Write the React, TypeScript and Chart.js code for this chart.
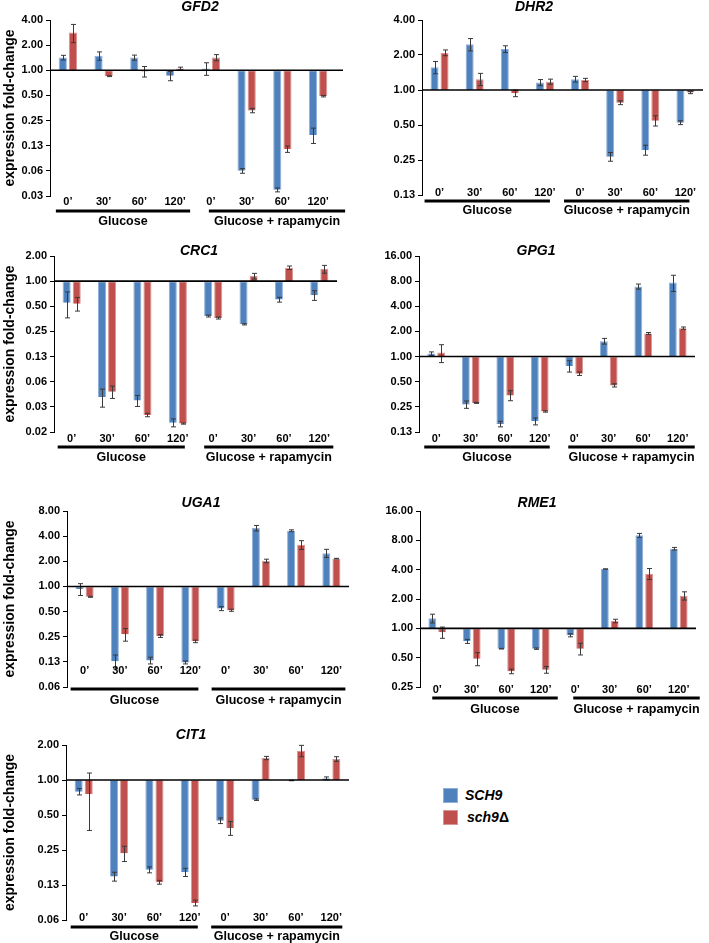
import React, { useEffect, useRef } from "react";
import { Chart, registerables } from "chart.js";
Chart.register(...registerables);

const FONT = "'Liberation Sans', Arial, Helvetica, sans-serif";
const BLUE = "#4F81BD";
const BLUE_EDGE = "#8FB0DA";
const RED = "#C0504D";
const RED_EDGE = "#D99593";

// ---- shared categories ----
const categories = ["0\u2019", "30\u2019", "60\u2019", "120\u2019", "0\u2019", "30\u2019", "60\u2019", "120\u2019"];
const groupNames = ["Glucose", "Glucose + rapamycin"];
const seriesNames = ["SCH9", "sch9\u0394"];

// ---- GFD2 ----
const gfd2Ticks = [0.03125, 0.0625, 0.125, 0.25, 0.5, 1, 2, 4];
const gfd2SCH9 = [1.42, 1.49, 1.42, 0.86, 1.05, 0.0625, 0.037, 0.168];
const gfd2SCH9Sd = [0.09, 0.17, 0.1, 0.11, 0.18, 0.004, 0.002, 0.035];
const gfd2Sch9d = [2.84, 0.85, 0.97, 1.05, 1.42, 0.33, 0.114, 0.49];
const gfd2Sch9dSd = [0.7, 0.01, 0.14, 0.04, 0.12, 0.02, 0.01, 0.01];

// ---- DHR2 ----
const dhr2Ticks = [0.125, 0.25, 0.5, 1, 2, 4];
const dhr2SCH9 = [1.57, 2.47, 2.25, 1.16, 1.24, 0.267, 0.305, 0.524];
const dhr2SCH9Sd = [0.19, 0.3, 0.15, 0.07, 0.07, 0.023, 0.03, 0.02];
const dhr2Sch9d = [2.09, 1.24, 0.936, 1.18, 1.22, 0.778, 0.545, 0.95];
const dhr2Sch9dSd = [0.12, 0.15, 0.06, 0.06, 0.04, 0.03, 0.055, 0.02];

// ---- CRC1 ----
const crc1Ticks = [0.015625, 0.03125, 0.0625, 0.125, 0.25, 0.5, 1, 2];
const crc1SCH9 = [0.553, 0.041, 0.0372, 0.0202, 0.382, 0.304, 0.601, 0.678];
const crc1SCH9Sd = [0.19, 0.01, 0.0056, 0.0022, 0.01, 0.005, 0.04, 0.09];
const crc1Sch9d = [0.538, 0.0474, 0.025, 0.0197, 0.362, 1.149, 1.447, 1.394];
const crc1Sch9dSd = [0.1, 0.008, 0.0012, 0.0003, 0.01, 0.09, 0.07, 0.15];

// ---- GPG1 ----
const gpg1Ticks = [0.125, 0.25, 0.5, 1, 2, 4, 8, 16];
const gpg1SCH9 = [1.087, 0.267, 0.156, 0.168, 0.772, 1.53, 6.9, 7.71];
const gpg1SCH9Sd = [0.05, 0.027, 0.012, 0.016, 0.12, 0.12, 0.48, 1.7];
const gpg1Sch9d = [1.117, 0.279, 0.343, 0.22, 0.624, 0.452, 1.892, 2.19];
const gpg1Sch9dSd = [0.27, 0.004, 0.047, 0.004, 0.03, 0.02, 0.05, 0.07];

// ---- UGA1 ----
const uga1Ticks = [0.0625, 0.125, 0.25, 0.5, 1, 2, 4, 8];
const uga1SCH9 = [0.929, 0.127, 0.13, 0.123, 0.543, 4.99, 4.64, 2.5];
const uga1SCH9Sd = [0.15, 0.024, 0.012, 0.005, 0.03, 0.38, 0.12, 0.28];
const uga1Sch9d = [0.751, 0.267, 0.255, 0.22, 0.519, 2.02, 3.15, 2.15];
const uga1Sch9dSd = [0.01, 0.046, 0.01, 0.008, 0.015, 0.1, 0.38, 0.02];

// ---- RME1 ----
const rme1Ticks = [0.25, 0.5, 1, 2, 4, 8, 16];
const rme1SCH9 = [1.266, 0.735, 0.618, 0.618, 0.848, 4.06, 9.0, 6.57];
const rme1SCH9Sd = [0.13, 0.035, 0.005, 0.01, 0.03, 0.02, 0.42, 0.2];
const rme1Sch9d = [0.91, 0.488, 0.362, 0.376, 0.618, 1.189, 3.64, 2.16];
const rme1Sch9dSd = [0.12, 0.075, 0.02, 0.03, 0.085, 0.05, 0.47, 0.21];

// ---- CIT1 ----
const cit1Ticks = [0.0625, 0.125, 0.25, 0.5, 1, 2];
const cit1SCH9 = [0.794, 0.148, 0.169, 0.161, 0.447, 0.677, 0.99, 1.033];
const cit1SCH9Sd = [0.05, 0.013, 0.01, 0.013, 0.025, 0.01, 0.005, 0.03];
const cit1Sch9d = [0.758, 0.234, 0.132, 0.0876, 0.387, 1.546, 1.787, 1.516];
const cit1Sch9dSd = [0.39, 0.035, 0.005, 0.005, 0.053, 0.05, 0.2, 0.07];

type Panel = {
  gene: string;
  box: { x: number; y: number; w: number; h: number };
  area: { l: number; r: number; t: number; b: number };
  ticks: number[];
  a: number[]; aSd: number[]; b: number[]; bSd: number[];
  yTitle: boolean;
  title: { x: number; y: number };
  labelY: number; lineY: number; groupY: number;
  lineOff: number[]; // offsets for underline ends (cat0, cat3, cat4, cat7)
  baseExt: number;
};

const panels: Panel[] = [
  { gene: "GFD2", box: { x: 0, y: 0, w: 355, h: 236 }, area: { l: 50, r: 336, t: 20, b: 196 },
    ticks: gfd2Ticks, a: gfd2SCH9, aSd: gfd2SCH9Sd, b: gfd2Sch9d, bSd: gfd2Sch9dSd, yTitle: true,
    title: { x: 200, y: 7 }, labelY: 202, lineY: 211, groupY: 222, lineOff: [-12, 15, -2, 27], baseExt: 7 },
  { gene: "DHR2", box: { x: 355, y: 0, w: 354, h: 236 }, area: { l: 67, r: 348, t: 20, b: 195 },
    ticks: dhr2Ticks, a: dhr2SCH9, aSd: dhr2SCH9Sd, b: dhr2Sch9d, bSd: dhr2Sch9dSd, yTitle: false,
    title: { x: 179, y: 7 }, labelY: 193, lineY: 201, groupY: 211, lineOff: [-15, 5, -16, 4], baseExt: 0 },
  { gene: "CRC1", box: { x: 0, y: 230, w: 355, h: 240 }, area: { l: 54, r: 337, t: 26, b: 202 },
    ticks: crc1Ticks, a: crc1SCH9, aSd: crc1SCH9Sd, b: crc1Sch9d, bSd: crc1Sch9dSd, yTitle: true,
    title: { x: 199, y: 21 }, labelY: 209, lineY: 217, groupY: 228, lineOff: [-14, 7, -9, 14], baseExt: 0 },
  { gene: "GPG1", box: { x: 355, y: 230, w: 354, h: 240 }, area: { l: 64, r: 340, t: 26, b: 202 },
    ticks: gpg1Ticks, a: gpg1SCH9, aSd: gpg1SCH9Sd, b: gpg1Sch9d, bSd: gpg1Sch9dSd, yTitle: false,
    title: { x: 181, y: 21 }, labelY: 209, lineY: 217, groupY: 228, lineOff: [-12, 10, -6, 17], baseExt: 0 },
  { gene: "UGA1", box: { x: 0, y: 460, w: 355, h: 255 }, area: { l: 67, r: 349, t: 51, b: 227 },
    ticks: uga1Ticks, a: uga1SCH9, aSd: uga1SCH9Sd, b: uga1Sch9d, bSd: uga1Sch9dSd, yTitle: true,
    title: { x: 201, y: 43 }, labelY: 211, lineY: 229, groupY: 241, lineOff: [-14, 8, -14, 14], baseExt: 0 },
  { gene: "RME1", box: { x: 355, y: 460, w: 354, h: 262 }, area: { l: 65, r: 341, t: 51, b: 227 },
    ticks: rme1Ticks, a: rme1SCH9, aSd: rme1SCH9Sd, b: rme1Sch9d, bSd: rme1Sch9dSd, yTitle: false,
    title: { x: 182, y: 43 }, labelY: 230, lineY: 238, groupY: 250, lineOff: [-5, 17, -2, 21], baseExt: 0 },
  { gene: "CIT1", box: { x: 0, y: 690, w: 355, h: 253 }, area: { l: 66, r: 349, t: 55, b: 230 },
    ticks: cit1Ticks, a: cit1SCH9, aSd: cit1SCH9Sd, b: cit1Sch9d, bSd: cit1Sch9dSd, yTitle: true,
    title: { x: 191, y: 45 }, labelY: 228, lineY: 237, groupY: 247, lineOff: [-13, 8, -14, 11], baseExt: 0 },
];

function decorPlugin(p: Panel) {
  return {
    id: "decor_" + p.gene,
    afterDatasetsDraw(chart: any) {
      const { ctx, chartArea } = chart;
      const y = chart.scales.y;
      ctx.save();
      // error bars
      chart.data.datasets.forEach((ds: any, i: number) => {
        const meta = chart.getDatasetMeta(i);
        meta.data.forEach((bar: any, j: number) => {
          const v = ds.vals[j];
          const sd = ds.sds[j];
          const yt = y.getPixelForValue(v + sd);
          const yb = y.getPixelForValue(Math.max(v - sd, 1e-6));
          const x = Math.round(bar.x) + 0.5;
          ctx.strokeStyle = "#3a3a3a";
          ctx.lineWidth = 1;
          ctx.beginPath();
          ctx.moveTo(x, yt); ctx.lineTo(x, yb);
          ctx.moveTo(x - 2.5, yt); ctx.lineTo(x + 2.5, yt);
          ctx.moveTo(x - 2.5, yb); ctx.lineTo(x + 2.5, yb);
          ctx.stroke();
        });
      });
      // baseline at 1.0
      const y1 = y.getPixelForValue(1);
      ctx.strokeStyle = "#000";
      ctx.lineWidth = 1.6;
      ctx.beginPath();
      ctx.moveTo(chartArea.left, y1);
      ctx.lineTo(chartArea.right + p.baseExt, y1);
      ctx.stroke();
      ctx.restore();
    },
    afterDraw(chart: any) {
      const { ctx } = chart;
      const x = chart.scales.x;
      ctx.save();
      ctx.fillStyle = "#000";
      // title
      ctx.font = `italic bold 14px ${FONT}`;
      ctx.textAlign = "center";
      ctx.textBaseline = "middle";
      ctx.fillText(p.gene, p.title.x, p.title.y);
      // category labels
      ctx.font = `bold 11px ${FONT}`;
      categories.forEach((c, i) => {
        ctx.fillText(c, x.getPixelForValue(i), p.labelY);
      });
      // group underlines and labels
      const ends = [
        [x.getPixelForValue(0) + p.lineOff[0], x.getPixelForValue(3) + p.lineOff[1]],
        [x.getPixelForValue(4) + p.lineOff[2], x.getPixelForValue(7) + p.lineOff[3]],
      ];
      ctx.strokeStyle = "#000";
      ctx.lineWidth = 3;
      ctx.font = `bold 12.5px ${FONT}`;
      ends.forEach((e, gi) => {
        ctx.beginPath();
        ctx.moveTo(e[0], p.lineY);
        ctx.lineTo(e[1], p.lineY);
        ctx.stroke();
        ctx.fillText(groupNames[gi], (e[0] + e[1]) / 2, p.groupY);
      });
      ctx.restore();
    },
  };
}

function PanelChart({ p }: { p: Panel }) {
  const ref = useRef<HTMLCanvasElement>(null);
  useEffect(() => {
    const canvas = ref.current;
    if (!canvas) return;
    const chart = new Chart(canvas, {
      type: "bar",
      data: {
        labels: categories,
        datasets: [
          { label: seriesNames[0], data: p.a.map((v) => [1, v]) as any, backgroundColor: BLUE, borderColor: BLUE_EDGE,
            borderWidth: 1, vals: p.a, sds: p.aSd } as any,
          { label: seriesNames[1], data: p.b.map((v) => [1, v]) as any, backgroundColor: RED, borderColor: RED_EDGE,
            borderWidth: 1, vals: p.b, sds: p.bSd } as any,
        ],
      },
      options: {
        responsive: false,
        animation: false,
        devicePixelRatio: 1,
        layout: { padding: { left: 0, top: p.area.t, right: p.box.w - p.area.r, bottom: p.box.h - p.area.b } },
        plugins: { legend: { display: false }, tooltip: { enabled: false }, title: { display: false } },
        datasets: { bar: { categoryPercentage: 0.57, barPercentage: 0.8 } },
        scales: {
          x: { display: false, offset: true },
          y: {
            type: "logarithmic",
            min: p.ticks[0],
            max: p.ticks[p.ticks.length - 1],
            afterBuildTicks: (s: any) => { s.ticks = p.ticks.map((v) => ({ value: v })); },
            afterFit: (s: any) => { s.width = p.area.l; },
            ticks: {
              autoSkip: false,
              padding: 3,
              color: "#000",
              font: { family: FONT, size: 11, weight: "bold" },
              callback: (v: any) => Number(v).toFixed(2),
            },
            grid: { display: true, drawOnChartArea: false, drawTicks: true, tickLength: 4, color: "#000", lineWidth: 1 },
            border: { display: true, color: "#000", width: 1 },
            title: {
              display: p.yTitle,
              text: "expression fold-change",
              color: "#000",
              font: { family: FONT, size: 14, weight: "bold" },
              padding: { top: 2, bottom: 0 },
            },
          } as any,
        },
      },
      plugins: [decorPlugin(p)],
    });
    return () => chart.destroy();
  }, [p]);
  return (
    <canvas
      ref={ref}
      width={p.box.w}
      height={p.box.h}
      style={{ position: "absolute", left: p.box.x, top: p.box.y, width: p.box.w, height: p.box.h }}
    />
  );
}

export default function App() {
  const legendText: React.CSSProperties = {
    position: "absolute",
    font: `italic bold 14px ${FONT}`,
    color: "#000",
    lineHeight: "16px",
  };
  return (
    <div style={{ position: "absolute", left: 0, top: 0, width: 709, height: 943, background: "#fff", overflow: "hidden" }}>
      {panels.map((p) => (
        <PanelChart key={p.gene} p={p} />
      ))}
      <div style={{ position: "absolute", left: 443, top: 788, width: 15, height: 15, background: BLUE, boxShadow: `inset 0 0 0 1px ${BLUE_EDGE}` }} />
      <div style={{ ...legendText, left: 465, top: 787 }}>{seriesNames[0]}</div>
      <div style={{ position: "absolute", left: 443, top: 810, width: 15, height: 15, background: RED, boxShadow: `inset 0 0 0 1px ${RED_EDGE}` }} />
      <div style={{ ...legendText, left: 467, top: 809 }}>
        sch9<span style={{ fontStyle: "normal" }}>{"\u0394"}</span>
      </div>
    </div>
  );
}
